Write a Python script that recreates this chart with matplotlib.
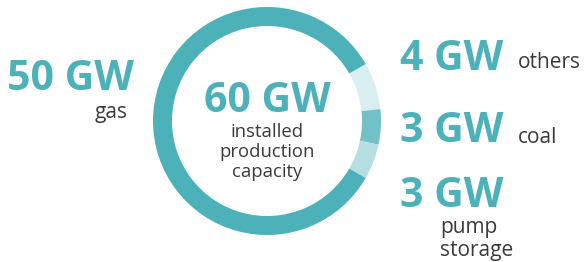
import matplotlib.pyplot as plt

# capacity by source (GW)
sources = ["others", "coal", "pump storage", "gas"]
capacity = [4, 3, 3, 50]
colors = ["#d8eef0", "#72c1c7", "#b5dfe3", "#4db1ba"]
total = sum(capacity)

teal = "#4db1ba"
grey = "#3a3a3a"
plt.rcParams["font.family"] = ["Open Sans", "DejaVu Sans"]

W, H = 587, 262
fig = plt.figure(figsize=(W / 100, H / 100), dpi=100)
ax = fig.add_axes([0, 0, 1, 1])

ax.pie(capacity, colors=colors, startangle=30, counterclock=False,
       center=(267, H - 121), radius=114,
       wedgeprops=dict(width=19, linewidth=0))
ax.set_xlim(0, W)
ax.set_ylim(0, H)
ax.set_aspect("equal")
ax.axis("off")

big = dict(fontsize=29.5, fontweight="bold", color=teal, va="baseline")
small = dict(fontsize=13.3, color=grey, va="baseline")
label = dict(fontsize=15, color=grey, va="baseline")

# centre label
ax.text(267, H - 112, f"{total} GW", ha="center", **big)
for txt, yb in zip(["installed", "production", "capacity"], [137, 157, 177]):
    ax.text(267, H - yb, txt, ha="center", **small)

# gas on the left
ax.text(7, H - 90, f"{capacity[3]} GW", ha="left", **big)
ax.text(128, H - 118, sources[3], ha="right", **label)

# small sources on the right
ax.text(400, H - 70, f"{capacity[0]} GW", ha="left", **big)
ax.text(518, H - 68, sources[0], ha="left", **label)
ax.text(400, H - 142, f"{capacity[1]} GW", ha="left", **big)
ax.text(518, H - 143, sources[1], ha="left", **label)
ax.text(400, H - 207, f"{capacity[2]} GW", ha="left", **big)
ax.text(440, H - 233, "pump", ha="left", **label)
ax.text(440, H - 256, "storage", ha="left", **label)

fig.savefig("out.png", dpi=100)
